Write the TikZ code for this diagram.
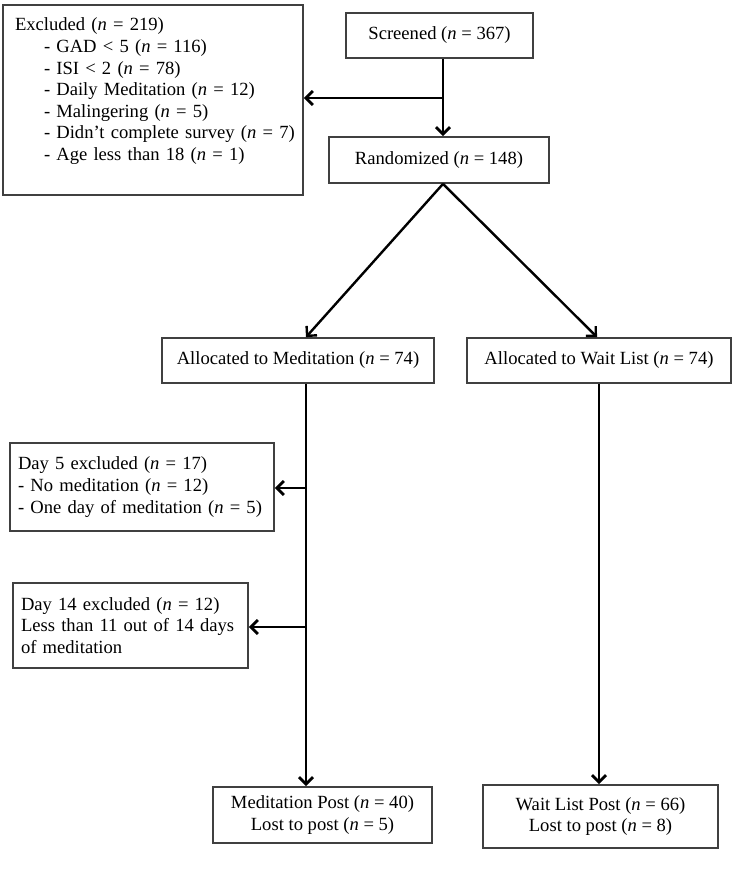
\documentclass[tikz,border=0pt]{standalone}
\usepackage{fontspec}
\setmainfont{Liberation Serif}
\usetikzlibrary{arrows.meta}
\tikzset{flowbox/.style={draw=black!75,line width=1.8pt,fill=white,inner xsep=10pt,inner ysep=4pt,font=\fontsize{18.6}{21.6}\selectfont}}
\tikzset{listbox/.style={flowbox,align=left,inner xsep=8pt}}
\tikzset{midbox/.style={flowbox,align=center}}
\tikzset{flowline/.style={line width=2.8pt,black}}
\tikzset{flowarrow/.style={flowline,-{Straight Barb[length=7pt,width=14pt]}}}
\newcommand{\ncount}[1]{(\textit{n} = #1)}

\begin{document}
\begin{tikzpicture}[x=1pt,y=-1pt]
	% fix the page size
	\useasboundingbox (0,0) rectangle (750,869);
	% draw the boxes of the main path
	\node[midbox,minimum width=187,minimum height=45] (screened) at (439.5,35.5) {Screened \ncount{367}};
	\node[midbox,minimum width=220,minimum height=46] (randomized) at (439,160) {Randomized \ncount{148}};
	\node[midbox,minimum width=272,minimum height=45] (allocmed) at (298,360.5) {Allocated to Meditation \ncount{74}};
	\node[midbox,minimum width=264,minimum height=45] (allocwl) at (599,360.5) {Allocated to Wait List \ncount{74}};
	\node[midbox,minimum width=219,minimum height=56] (medpost) at (322.5,815) {Meditation Post \ncount{40}\\ Lost to post \ncount{5}};
	\node[midbox,minimum width=235,minimum height=63] (wlpost) at (600.5,816.5) {Wait List Post \ncount{66}\\ Lost to post \ncount{8}};
	% draw the boxes of the exclusions
	\node[listbox,text width=284,minimum height=190] (excluded) at (153,100) {\hspace*{4pt}Excluded \ncount{219}\\
		\hspace*{33pt}- GAD < 5 \ncount{116}\\
		\hspace*{33pt}- ISI < 2 \ncount{78}\\
		\hspace*{33pt}- Daily Meditation \ncount{12}\\
		\hspace*{33pt}- Malingering \ncount{5}\\
		\hspace*{33pt}- Didn't complete survey \ncount{7}\\
		\hspace*{33pt}- Age less than 18 \ncount{1}\\ ~};
	\node[listbox,text width=248,minimum height=88] (day5) at (142,487) {Day 5 excluded \ncount{17}\\ - No meditation \ncount{12}\\ - One day of meditation \ncount{5}};
	\node[listbox,text width=219,minimum height=85] (day14) at (130.5,625.5) {Day 14 excluded \ncount{12}\\ Less than 11 out of 14 days\\ of meditation};
	% draw the branch points
	\coordinate (split) at (443,98);
	\coordinate (medsplit5) at (306,488);
	\coordinate (medsplit14) at (306,627);
	% draw the connectors
	\draw[flowline] (screened.south -| split) -- (split);
	\draw[flowarrow] (split) -- (excluded.east |- split);
	\draw[flowarrow] (split) -- (randomized.north -| split);
	\draw[flowarrow,line width=2.4pt] (randomized.south -| split) -- (allocmed.north -| medsplit5);
	\draw[flowarrow,line width=2.4pt] (randomized.south -| split) -- ([xshift=-2pt]allocwl.north);
	\draw[flowarrow] (allocmed.south -| medsplit5) -- (medpost.north -| medsplit5);
	\draw[flowarrow] (medsplit5) -- (day5.east |- medsplit5);
	\draw[flowarrow] (medsplit14) -- (day14.east |- medsplit14);
	\draw[flowarrow] (allocwl.south) -- (wlpost.north -| allocwl.south);
\end{tikzpicture}
\end{document}
